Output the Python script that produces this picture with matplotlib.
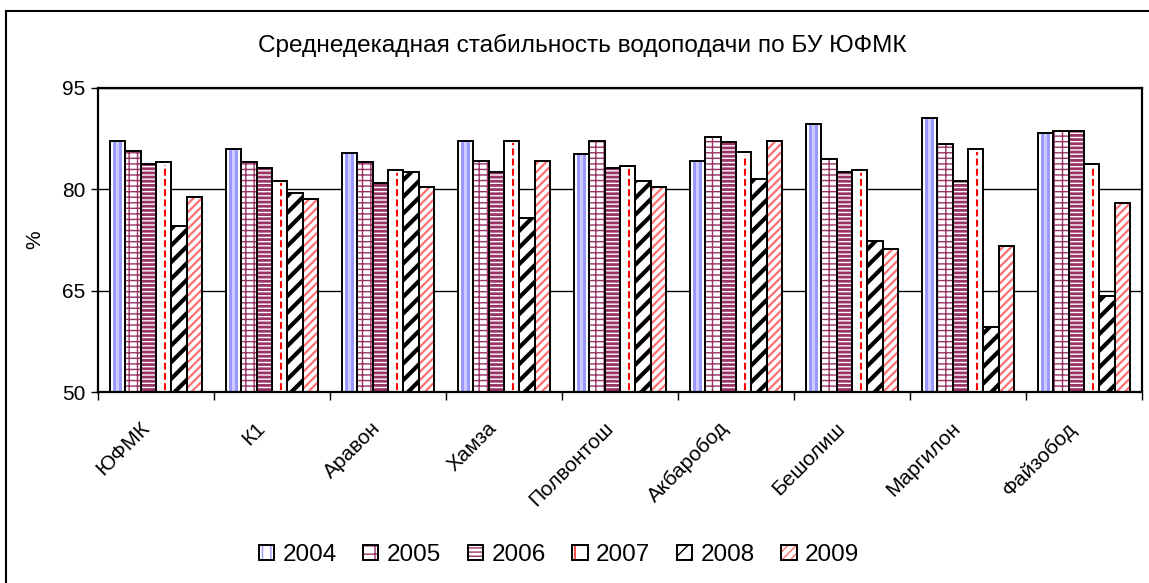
import matplotlib
matplotlib.use("Agg")
import matplotlib.pyplot as plt
import numpy as np
from matplotlib.patches import Patch
from matplotlib.legend_handler import HandlerTuple
from matplotlib.transforms import ScaledTranslation

plt.rcParams['font.family'] = ['Liberation Sans', 'DejaVu Sans']

categories = ["ЮФМК", "К1", "Аравон", "Хамза", "Полвонтош", "Акбаробод", "Бешолиш", "Маргилон", "Файзобод"]
years = ["2004", "2005", "2006", "2007", "2008", "2009"]
v2004 = [87.2, 86.0, 85.4, 87.2, 85.2, 84.2, 89.6, 90.5, 88.4]
v2005 = [85.7, 84.0, 84.0, 84.2, 87.2, 87.8, 84.5, 86.7, 88.7]
v2006 = [83.7, 83.1, 81.0, 82.5, 83.1, 87.0, 82.5, 81.3, 88.7]
v2007 = [84.0, 81.3, 82.8, 87.2, 83.4, 85.5, 82.8, 86.0, 83.7]
v2008 = [74.5, 79.5, 82.6, 75.7, 81.3, 81.6, 72.4, 59.6, 64.2]
v2009 = [78.9, 78.6, 80.4, 84.2, 80.4, 87.2, 71.2, 71.6, 78.0]
yticks = [50, 65, 80, 95]

fig = plt.figure(figsize=(11.49, 5.83), dpi=100)
ax = fig.add_axes([98/1149, 191/583, 1044/1149, 304/583])

x = np.arange(len(categories))
w = 0.132
maroon = '#993366'


def hatched(xpos, vals, hatch, color, hlw):
    bars = ax.bar(xpos, vals, w, color='white', edgecolor=color, linewidth=0,
                  hatch=hatch, zorder=2)
    for p in bars:
        if hasattr(p, 'set_hatch_linewidth'):
            p.set_hatch_linewidth(hlw)
    return bars


def outline(xpos, vals):
    ax.bar(xpos, vals, w, color='none', edgecolor='black', linewidth=1.4, zorder=3)


# 2004: white with blue stripes
x0 = x - 2.5 * w
ax.bar(x0, v2004, w, color='white', linewidth=0, zorder=2)
ax.bar(x0, v2004, w * 0.6, color='#9999ff', linewidth=0, zorder=2)
ax.bar(x0, v2004, w * 0.2, color='#ccccff', linewidth=0, zorder=2)
outline(x0, v2004)

# 2005: brick
x1 = x - 1.5 * w
hatched(x1, v2005, '++-', maroon, 1.0)
outline(x1, v2005)

# 2006: horizontal stripes
x2 = x - 0.5 * w
hatched(x2, v2006, '----', maroon, 2.0)
outline(x2, v2006)

# 2007: white with red dashed line
x3 = x + 0.5 * w
ax.bar(x3, v2007, w, color='white', linewidth=0, zorder=2)
ax.vlines(x3 + w * 0.1, 0, np.array(v2007) - 0.4, colors='red', linewidth=1.5,
          linestyles=(0, (3.3, 1.6)), zorder=2.5)
outline(x3, v2007)

# 2008: black wide diagonal
x4 = x + 1.5 * w
hatched(x4, v2008, '//', 'black', 3.0)
outline(x4, v2008)

# 2009: pink fine diagonal
x5 = x + 2.5 * w
hatched(x5, v2009, '////', '#ff7070', 1.6)
outline(x5, v2009)

ax.set_ylim(50, 95)
ax.set_xlim(-0.5, len(categories) - 0.5)
ax.set_yticks(yticks)
ax.yaxis.grid(True, color='black', linewidth=1.0, zorder=0)
ax.set_axisbelow(True)
ax.tick_params(axis='y', direction='out', length=5, width=1, labelsize=15, pad=4)

ax.set_xticks(np.arange(len(categories) + 1) - 0.5)
ax.set_xticklabels([])
ax.tick_params(axis='x', which='major', direction='out', length=6, width=1)
ax.set_xticks(x, minor=True)
ax.set_xticklabels(categories, minor=True, rotation=45, ha='right',
                   rotation_mode='anchor', va='center', fontsize=15)
ax.tick_params(axis='x', which='minor', length=0, pad=24)
offset = ScaledTranslation(-10 / 100, 0, fig.dpi_scale_trans)
for lab in ax.get_xticklabels(minor=True):
    lab.set_transform(lab.get_transform() + offset)

for s in ax.spines.values():
    s.set_linewidth(1.6)
    s.set_color('black')

fig.text(582/1149, 1 - 45/583, "Среднедекадная стабильность водоподачи по БУ ЮФМК",
         fontsize=17.6, ha='center', va='center')
fig.text(35/1149, 1 - 240/583, "%", fontsize=15, rotation=90, ha='center', va='center')

# outer frame
fig.add_artist(plt.Line2D([6/1149, 6/1149], [0, 1 - 11/583], color='black', linewidth=1.5))
fig.add_artist(plt.Line2D([6/1149, 1], [1 - 11/583, 1 - 11/583], color='black', linewidth=1.5))


def proxy(hatch, color, hlw, base='white'):
    fill = Patch(facecolor=base, edgecolor=color, linewidth=0, hatch=hatch)
    if hasattr(fill, 'set_hatch_linewidth'):
        fill.set_hatch_linewidth(hlw)
    edge = Patch(facecolor='none', edgecolor='black', linewidth=1.4)
    return (fill, edge)


handles = [proxy('||', '#9999ff', 2.0), proxy('+-', maroon, 1.0), proxy('----', maroon, 2.0),
           proxy('|', 'red', 1.5), proxy('//', 'black', 3.0), proxy('////', '#ff7070', 1.6)]
fig.legend(handles, years, handler_map={tuple: HandlerTuple(ndivide=1, pad=0)},
           loc='center', bbox_to_anchor=(559/1149, 1 - 555/583), ncol=6, frameon=False,
           fontsize=17.5, handlelength=0.62, handleheight=0.62, handletextpad=0.35,
           columnspacing=1.1)

fig.savefig("out.png", dpi=100)
